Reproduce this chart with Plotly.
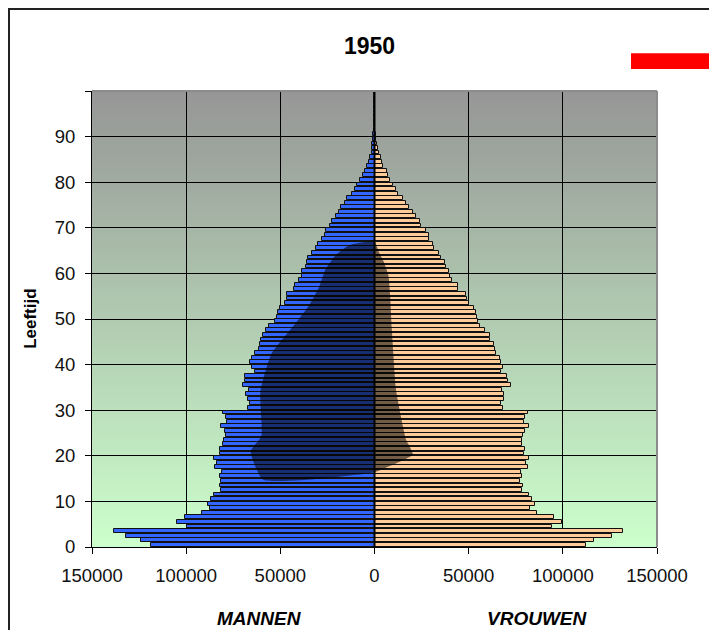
import plotly.graph_objects as go

# leeftijdsopbouw 1950
ages = list(range(100))

mannen = [
    118700, 123900, 132200, 138500, 99500, 105100, 100500, 91500, 87300, 88400,
    86600, 85200, 81500, 81800, 81500, 82200, 80900, 84600, 83600, 85200,
    82000, 82000, 80200, 79700, 79000, 79300, 81300, 78300, 78800, 80200,
    67300, 66100, 67100, 68000, 66600, 69800, 68900, 68700, 63400, 64800,
    65900, 64800, 63400, 61300, 61000, 60300, 59000, 57800, 55900, 52700,
    51900, 51100, 50300, 47600, 46200, 46200, 42700, 42100, 40000, 38600,
    38600, 36500, 35600, 35100, 33300, 30800, 29800, 28000, 26200, 25500,
    23800, 22400, 20600, 18800, 17600, 15600, 14400, 11700, 10300, 9100,
    7900, 6100, 5000, 4000, 2900, 2400, 1500, 1500, 1100, 600,
    800, 300, 150, 100, 50, 30, 20, 10, 5, 3,
]

vrouwen = [
    112400, 116300, 125900, 131800, 94400, 99400, 95500, 86400, 82700, 85200,
    83400, 82000, 78200, 78600, 77500, 78100, 77700, 81300, 80200, 82000,
    79500, 79800, 78100, 78400, 78800, 79800, 82100, 79300, 80000, 81400,
    68300, 67000, 68800, 69000, 67700, 72400, 70900, 70400, 67000, 68300,
    67200, 66500, 64500, 63800, 63300, 61100, 61300, 58700, 56100, 55200,
    54300, 53900, 53000, 50400, 48900, 48600, 44300, 44500, 41400, 40000,
    39400, 37800, 37500, 35500, 34300, 31600, 31000, 29200, 28900, 27500,
    24800, 24200, 22100, 20300, 18200, 16700, 14900, 12300, 11400, 9900,
    8100, 7200, 6400, 4600, 4200, 3300, 2400, 1700, 1500, 1000,
    600, 400, 250, 150, 100, 60, 30, 20, 10, 5,
]

# donker vlak (beroepsbevolking), omtrek: links van boven naar beneden, rechts terug omhoog
vlak_x = [0, -13500, -20600, -25900, -29400, -34700, -42000, -54800, -60600, -60100,
          -65700, -59200, 0, 7800, 20300, 16700, 14000, 11400, 9200, 8300,
          7400, 5100, 2400, 0]
vlak_y = [67.0, 66.2, 64.0, 61.0, 57.0, 53.0, 49.0, 42.3, 34.0, 24.3,
          21.0, 14.8, 16.4, 17.7, 20.3, 23.6, 28.7, 34.6, 47.8, 55.1,
          59.5, 62.4, 64.6, 67.0]

x_ticks = [-150000, -100000, -50000, 0, 50000, 100000, 150000]
x_labels = ["150000", "100000", "50000", "0", "50000", "100000", "150000"]
y_ticks = list(range(0, 101, 10))
y_labels = [str(v) for v in range(0, 100, 10)] + [""]

fig = go.Figure()

fig.add_trace(go.Bar(
    y=ages, x=[-v for v in mannen], orientation="h", name="Mannen",
    width=0.84, offset=0.08,
    marker=dict(color="#3366FF", line=dict(color="#111111", width=1)),
))
fig.add_trace(go.Bar(
    y=ages, x=vrouwen, orientation="h", name="Vrouwen",
    width=0.84, offset=0.08,
    marker=dict(color="#FFCC99", line=dict(color="#111111", width=1)),
))
fig.add_trace(go.Scatter(
    x=vlak_x, y=vlak_y, mode="lines", fill="toself",
    fillcolor="rgba(0,0,0,0.55)", line=dict(width=0, shape="spline", smoothing=0.5),
    hoverinfo="skip",
))

# achtergrond: verloop van grijs (boven) naar lichtgroen (onder)
top = (150, 150, 150)
bottom = (204, 255, 204)
n = 120
shapes = []
for i in range(n):
    t = (i + 0.5) / n
    c = tuple(round(bottom[k] + (top[k] - bottom[k]) * t) for k in range(3))
    shapes.append(dict(
        type="rect", xref="paper", yref="paper", x0=0, x1=1,
        y0=i / n, y1=(i + 1) / n + 0.002, layer="below",
        line=dict(width=0), fillcolor="rgb(%d,%d,%d)" % c,
    ))

# nul-as, rand rechts/boven, kader, rood blokje
shapes += [
    dict(type="line", xref="x", yref="paper", x0=0, x1=0, y0=0, y1=1,
         line=dict(color="black", width=2)),
    dict(type="line", xref="paper", yref="paper", x0=0, x1=1, y0=1, y1=1,
         line=dict(color="#8c8c8c", width=2)),
    dict(type="line", xref="paper", yref="paper", x0=1, x1=1, y0=0, y1=1,
         line=dict(color="#8c8c8c", width=2)),
    dict(type="rect", xref="paper", yref="paper", x0=-0.1469, x1=1.3, y0=-0.3, y1=1.1798,
         line=dict(color="#222222", width=2)),
    dict(type="rect", xref="paper", yref="paper", x0=0.954, x1=1.3, y0=1.048, y1=1.083,
         line=dict(width=0), fillcolor="#FF0000"),
]

font = "Arial, Liberation Sans, sans-serif"

fig.update_layout(
    width=717, height=630,
    margin=dict(l=84, r=68, t=83, b=91, autoexpand=False),
    paper_bgcolor="white", plot_bgcolor="rgba(0,0,0,0)",
    barmode="overlay", bargap=0, showlegend=False,
    font=dict(family=font, size=18.5, color="#111111"),
    shapes=shapes,
    xaxis=dict(
        range=[-150000, 150000], tickvals=x_ticks, ticktext=x_labels,
        showgrid=True, gridcolor="black", gridwidth=1, zeroline=False,
        showline=True, linecolor="black", linewidth=1,
        ticks="outside", ticklen=6, tickcolor="black", ticklabelstandoff=6,
    ),
    yaxis=dict(
        range=[0, 100], tickvals=y_ticks, ticktext=y_labels,
        showgrid=True, gridcolor="black", gridwidth=1, zeroline=False,
        showline=True, linecolor="black", linewidth=1,
        ticks="outside", ticklen=6, tickcolor="black", ticklabelstandoff=6,
    ),
    annotations=[
        dict(text="<b>1950</b>", xref="paper", yref="paper", x=0.492, y=1.099,
             xanchor="center", yanchor="middle", showarrow=False,
             font=dict(size=23, family=font, color="black")),
        dict(text="<b>Leeftijd</b>", xref="paper", yref="paper", x=-0.11, y=0.5,
             xanchor="center", yanchor="middle", textangle=-90, showarrow=False,
             font=dict(size=17, family=font, color="black")),
        dict(text="<b><i>MANNEN</i></b>", xref="paper", yref="paper", x=0.297, y=-0.157,
             xanchor="center", yanchor="middle", showarrow=False,
             font=dict(size=19, family=font, color="black")),
        dict(text="<b><i>VROUWEN</i></b>", xref="paper", yref="paper", x=0.788, y=-0.157,
             xanchor="center", yanchor="middle", showarrow=False,
             font=dict(size=19, family=font, color="black")),
    ],
)

fig.write_html("out.html")
